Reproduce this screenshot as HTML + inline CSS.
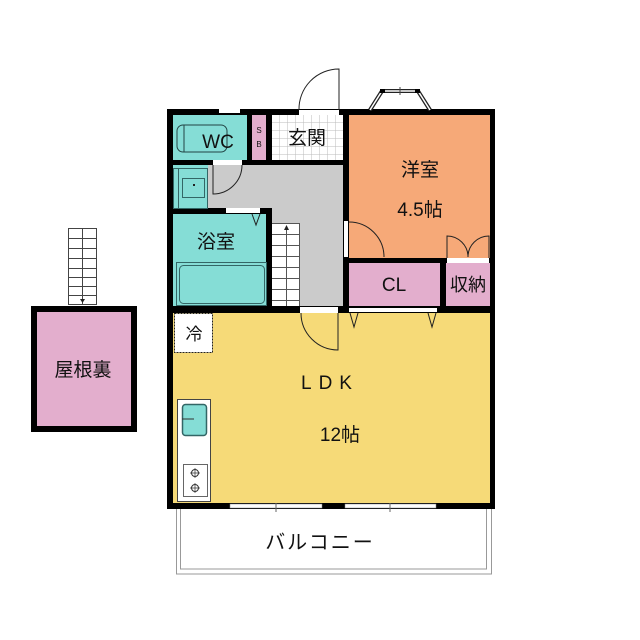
<!DOCTYPE html>
<html><head><meta charset="utf-8"><style>
html,body{margin:0;padding:0;background:#fff;width:640px;height:640px;overflow:hidden}
svg{display:block}
text{font-family:"Liberation Sans","Noto Sans CJK JP",sans-serif;fill:#111}
</style></head><body>
<svg width="640" height="640" viewBox="0 0 640 640" xmlns="http://www.w3.org/2000/svg">
<defs>
<pattern id="tile" width="8" height="8" patternUnits="userSpaceOnUse" x="272" y="115">
<rect width="8" height="8" fill="#fff"/><path d="M8 0V8M0 8H8" stroke="#bbb" stroke-width="1"/>
</pattern>
</defs>
<!-- balcony -->
<rect x="176.5" y="505" width="315" height="69" fill="#fff" stroke="#999" stroke-width="1"/>
<rect x="180.5" y="505" width="306" height="64" fill="#fff" stroke="#999" stroke-width="1"/>
<text x="320" y="549" font-size="20" text-anchor="middle" letter-spacing="2">バルコニー</text>

<!-- outer wall block -->
<rect x="167" y="109" width="328" height="400" fill="#000"/>
<!-- rooms -->
<rect x="173" y="115" width="74" height="45" fill="#85ddd6"/>
<rect x="252" y="115" width="14" height="45" fill="#e3aecd"/>
<rect x="272" y="115" width="71" height="45" fill="url(#tile)"/>
<rect x="349" y="115" width="141" height="143" fill="#f6a978"/>
<rect x="208" y="165" width="135" height="43" fill="#cbcbcb"/>
<rect x="272" y="165" width="71" height="141" fill="#cbcbcb"/>
<rect x="173" y="165" width="35" height="43" fill="#85ddd6"/>
<rect x="173" y="214" width="93" height="92" fill="#85ddd6"/>
<rect x="349" y="263" width="91" height="43" fill="#e3aecd"/>
<rect x="446" y="263" width="44" height="43" fill="#e3aecd"/>
<rect x="173" y="313" width="317" height="190" fill="#f6da78"/>

<!-- WC detail -->
<rect x="177" y="125" width="50" height="27" rx="6" fill="none" stroke="#244" stroke-width="1"/>
<line x1="184" y1="125" x2="184" y2="152" stroke="#244"/>
<text x="218" y="148" font-size="19" text-anchor="middle">WC</text>
<text x="259" y="133" font-size="8" text-anchor="middle">S</text>
<text x="259" y="147" font-size="8" text-anchor="middle">B</text>
<text x="307" y="144" font-size="19" text-anchor="middle">玄関</text>
<!-- washroom -->
<rect x="173.5" y="168.5" width="5" height="40" fill="none" stroke="#366"/>
<rect x="178.5" y="168.5" width="29" height="40" fill="none" stroke="#366"/>
<rect x="182.5" y="178.5" width="22" height="19" fill="none" stroke="#366"/>
<rect x="193" y="184" width="2" height="2" fill="#222"/>
<!-- WC door -->
<rect x="213" y="160" width="29" height="5" fill="#fff"/>
<path d="M242 165 A29 29 0 0 1 213 194 L213 165" fill="none" stroke="#222"/>
<!-- top windows/doors -->
<rect x="219" y="109" width="21" height="4" fill="#fff"/>
<rect x="299" y="110" width="40" height="5" fill="#fff"/>
<path d="M339 110 L339 69 A40 40 0 0 0 299 110" fill="none" stroke="#222"/>
<!-- bay window -->
<path d="M370 110 L382 91 L418 91 L430 110" fill="none" stroke="#222" stroke-width="4"/>
<path d="M370 110 L382 91 L418 91 L430 110" fill="none" stroke="#fff" stroke-width="1.5"/>
<rect x="380" y="89" width="5" height="4" fill="#000"/><rect x="415" y="89" width="5" height="4" fill="#000"/>
<line x1="400" y1="87" x2="400" y2="95" stroke="#444"/>

<!-- bath -->
<rect x="226" y="208" width="34" height="5" fill="#fff"/>
<path d="M252 214 L256 225 L260 214" fill="none" stroke="#222"/>
<text x="216" y="248" font-size="19" text-anchor="middle">浴室</text>
<rect x="176.5" y="262.5" width="90" height="43" fill="none" stroke="#366"/>
<rect x="179.5" y="265.5" width="85" height="38" rx="4" fill="none" stroke="#366"/>
<!-- stairs -->
<rect x="272" y="223" width="28" height="83" fill="#fff"/>
<g stroke="#555" stroke-width="1">
<line x1="272" y1="223.5" x2="300" y2="223.5"/><line x1="272" y1="234.5" x2="300" y2="234.5"/>
<line x1="272" y1="245.5" x2="300" y2="245.5"/><line x1="272" y1="256.5" x2="300" y2="256.5"/>
<line x1="272" y1="267.5" x2="300" y2="267.5"/><line x1="272" y1="278.5" x2="300" y2="278.5"/>
<line x1="272" y1="289.5" x2="300" y2="289.5"/><line x1="272" y1="300.5" x2="300" y2="300.5"/>
<line x1="286.5" y1="228" x2="286.5" y2="306"/><line x1="299.5" y1="223" x2="299.5" y2="306"/>
</g>
<path d="M284 230 L286.5 225 L289 230Z" fill="#222"/>

<!-- yoshitsu -->
<text x="420" y="176" font-size="19" text-anchor="middle">洋室</text>
<text x="420" y="216" font-size="19" text-anchor="middle">4.5帖</text>
<rect x="344" y="221" width="4" height="36" fill="#fff"/>
<path d="M349 222 A35 35 0 0 1 384 257 L384 257" fill="none" stroke="#222"/>
<rect x="447" y="258" width="42" height="5" fill="#fff"/>
<path d="M447 258 L447 236 A21 21 0 0 1 468 257 M489 258 L489 236 A21 21 0 0 0 468 257" fill="none" stroke="#222"/>
<text x="394" y="291" font-size="19" text-anchor="middle">CL</text>
<text x="468" y="291" font-size="18" text-anchor="middle">収納</text>

<!-- LDK -->
<rect x="349" y="308" width="88" height="4" fill="#fff"/>
<path d="M350 313 L354 327 L358 313 M428 313 L432 327 L436 313" fill="none" stroke="#222"/>
<rect x="300" y="307" width="38" height="6" fill="#fff"/>
<path d="M338 313 L338 350 A37 37 0 0 1 301 313" fill="none" stroke="#222"/>
<rect x="174.5" y="313.5" width="38" height="39" fill="#fff" stroke="#222" stroke-dasharray="2,1"/>
<text x="194" y="340" font-size="17" text-anchor="middle">冷</text>
<text x="330" y="389" font-size="19" text-anchor="middle" letter-spacing="7">LDK</text>
<text x="340" y="441" font-size="19" text-anchor="middle">12帖</text>
<rect x="177.5" y="399.5" width="33" height="102" fill="#fff" stroke="#444"/>
<rect x="182.5" y="404.5" width="24" height="31" rx="3" fill="#85ddd6" stroke="#366" stroke-width="1.5"/>
<line x1="182" y1="419" x2="194" y2="419" stroke="#333"/>
<rect x="183.5" y="464.5" width="24" height="32" fill="none" stroke="#666"/>
<circle cx="195" cy="473" r="3.5" fill="none" stroke="#333"/><circle cx="195" cy="488" r="3.5" fill="none" stroke="#333"/>
<path d="M190 473H200M195 468V478M190 488H200M195 483V493" stroke="#333" stroke-width="0.7"/>
<!-- bottom windows -->
<rect x="230" y="504" width="92" height="4" fill="#fff" stroke="#888" stroke-width="0.5"/>
<rect x="345" y="504" width="91" height="4" fill="#fff" stroke="#888" stroke-width="0.5"/>
<line x1="276" y1="503" x2="276" y2="512" stroke="#666"/><line x1="390" y1="503" x2="390" y2="512" stroke="#666"/>

<!-- attic -->
<rect x="68" y="228" width="29" height="77" fill="#fff"/>
<g stroke="#444" stroke-width="1">
<rect x="68.5" y="228.5" width="28" height="76" fill="none"/>
<line x1="82.5" y1="228" x2="82.5" y2="305"/>
<line x1="68" y1="238.5" x2="97" y2="238.5"/><line x1="68" y1="248.5" x2="97" y2="248.5"/>
<line x1="68" y1="258.5" x2="97" y2="258.5"/><line x1="68" y1="268.5" x2="97" y2="268.5"/>
<line x1="68" y1="277.5" x2="97" y2="277.5"/><line x1="68" y1="286.5" x2="97" y2="286.5"/>
<line x1="68" y1="295.5" x2="97" y2="295.5"/>
</g>
<path d="M80 299 L82.5 303 L85 299Z" fill="#222"/>
<rect x="34" y="309" width="100" height="120" fill="#e3aecd" stroke="#000" stroke-width="6"/>
<text x="83" y="376" font-size="19" text-anchor="middle">屋根裏</text>
</svg>
</body></html>
